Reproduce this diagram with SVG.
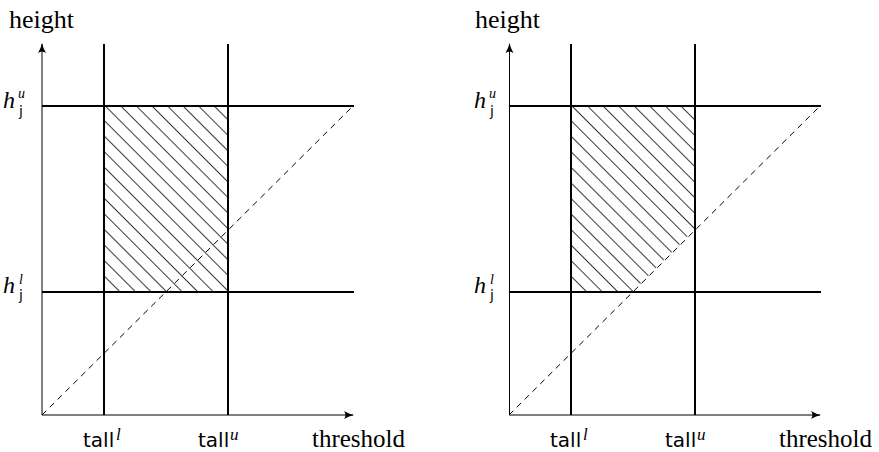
<svg xmlns="http://www.w3.org/2000/svg" width="879" height="452" viewBox="0 0 879 452">
<style>
.axis{stroke:#000;stroke-width:1;fill:none}
.thick{stroke:#000;stroke-width:2;fill:none}
.dash{stroke:#000;stroke-width:1;stroke-dasharray:6 5;fill:none}
.serif{font-family:"Liberation Serif","Times New Roman",serif;fill:#000}
.it{font-family:"Liberation Serif","Times New Roman",serif;font-style:italic;fill:#000}
.sans{font-family:"DejaVu Sans","Liberation Sans",sans-serif;fill:#000}
</style>
<defs>
<marker id="arr" viewBox="0 0 10 10" refX="9" refY="5" markerWidth="10" markerHeight="10" markerUnits="userSpaceOnUse" orient="auto">
<path d="M0,1 Q5,4 10,5 Q5,6 0,9 Q3,5 0,1 Z" fill="#000"/>
</marker>
<pattern id="hatch" patternUnits="userSpaceOnUse" width="11" height="11" patternTransform="rotate(45)">
<rect x="0" y="0" width="11" height="0.9" fill="#222"/>
</pattern>
</defs>

<g id="left-panel">
<g id="left-hatch">
<polygon points="104,106 228,106 228,292 104,292" fill="url(#hatch)"/>
</g>
<g id="left-connectors">
<line class="axis" x1="42" y1="415" x2="42" y2="44" marker-end="url(#arr)"/>
<line class="axis" x1="42" y1="415" x2="353" y2="415" marker-end="url(#arr)"/>
<line class="thick" x1="104" y1="44" x2="104" y2="415"/>
<line class="thick" x1="228" y1="44" x2="228" y2="415"/>
<line class="thick" x1="42" y1="106" x2="354" y2="106"/>
<line class="thick" x1="42" y1="292" x2="354" y2="292"/>
<line class="dash" x1="42" y1="415" x2="353" y2="106"/>
</g>
<g id="left-labels">
<text class="serif" x="9" y="28" font-size="26">height</text>
<text class="it" x="3" y="108" font-size="24">h</text>
<text class="it" x="18" y="98" font-size="14">u</text>
<text class="sans" x="19" y="116" font-size="14">j</text>
<text class="it" x="3" y="293" font-size="24">h</text>
<text class="it" x="19" y="284" font-size="14">l</text>
<text class="sans" x="19" y="300" font-size="14">j</text>
<text class="sans" x="83" y="447" font-size="20">tall</text>
<text class="it" x="116" y="440" font-size="17">l</text>
<text class="sans" x="198" y="447" font-size="20">tall</text>
<text class="it" x="230" y="440" font-size="17">u</text>
<text class="serif" x="312" y="447" font-size="25">threshold</text>
</g>
</g>

<g id="right-panel">
<g id="right-hatch">
<polygon points="571,106 695,106 695,229 632,292 571,292" fill="url(#hatch)"/>
</g>
<g id="right-connectors">
<line class="axis" x1="509.5" y1="415" x2="509.5" y2="44" marker-end="url(#arr)"/>
<line class="axis" x1="509" y1="415" x2="820" y2="415" marker-end="url(#arr)"/>
<line class="thick" x1="571" y1="44" x2="571" y2="415"/>
<line class="thick" x1="695" y1="44" x2="695" y2="415"/>
<line class="thick" x1="509" y1="106" x2="821" y2="106"/>
<line class="thick" x1="509" y1="292" x2="821" y2="292"/>
<line class="dash" x1="509" y1="415" x2="820" y2="106"/>
</g>
<g id="right-labels">
<text class="serif" x="475" y="28" font-size="26">height</text>
<text class="it" x="474" y="108" font-size="24">h</text>
<text class="it" x="489" y="98" font-size="14">u</text>
<text class="sans" x="490" y="116" font-size="14">j</text>
<text class="it" x="474" y="293" font-size="24">h</text>
<text class="it" x="490" y="284" font-size="14">l</text>
<text class="sans" x="490" y="300" font-size="14">j</text>
<text class="sans" x="550" y="447" font-size="20">tall</text>
<text class="it" x="583" y="440" font-size="17">l</text>
<text class="sans" x="665" y="447" font-size="20">tall</text>
<text class="it" x="697" y="440" font-size="17">u</text>
<text class="serif" x="779" y="447" font-size="25">threshold</text>
</g>
</g>
</svg>
